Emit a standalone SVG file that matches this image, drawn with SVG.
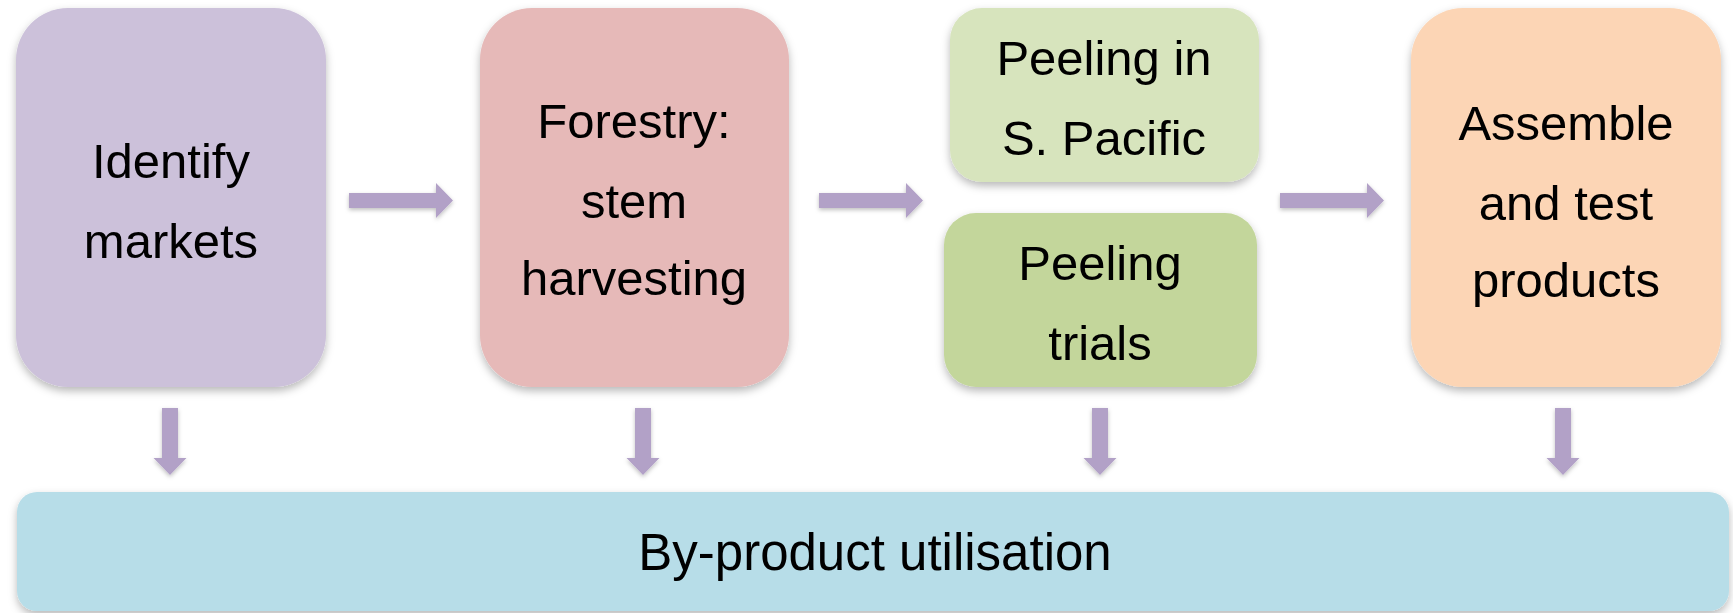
<svg xmlns="http://www.w3.org/2000/svg" width="1733" height="613" viewBox="0 0 1733 613">
<defs>
<filter id="sh" x="-10%" y="-10%" width="120%" height="130%">
<feDropShadow dx="0" dy="4" stdDeviation="4" flood-color="#000" flood-opacity="0.28"/>
</filter>
<filter id="ash" x="-20%" y="-20%" width="140%" height="160%">
<feDropShadow dx="0" dy="2" stdDeviation="2" flood-color="#000" flood-opacity="0.25"/>
</filter>
<style>
text{font-family:"Liberation Sans",Arial,sans-serif;font-size:49px;fill:#000;text-anchor:middle}
.big{font-size:51px}
.arr{fill:#B2A1C7;filter:url(#ash)}
.box{filter:url(#sh)}
</style>
</defs>
<rect width="1733" height="613" fill="#fff"/>
<g id="identify">
<rect class="box" x="16" y="8" width="310" height="379" rx="52" fill="#CCC1DA"/>
<text x="171" y="178">Identify</text>
<text x="171" y="258">markets</text>
</g>
<g id="forestry">
<rect class="box" x="480" y="8" width="309" height="379" rx="52" fill="#E6B9B8"/>
<text x="634" y="138">Forestry:</text>
<text x="634" y="218">stem</text>
<text x="634" y="295">harvesting</text>
</g>
<g id="peeling-sp">
<rect class="box" x="950" y="8" width="309" height="174" rx="32" fill="#D7E4BD"/>
<text x="1104" y="75">Peeling in</text>
<text x="1104" y="155">S. Pacific</text>
</g>
<g id="peeling-trials">
<rect class="box" x="944" y="213" width="313" height="174" rx="32" fill="#C3D69B"/>
<text x="1100" y="280">Peeling</text>
<text x="1100" y="360">trials</text>
</g>
<g id="assemble">
<rect class="box" x="1411" y="8" width="310" height="379" rx="52" fill="#FCD5B5"/>
<text x="1566" y="140">Assemble</text>
<text x="1566" y="220">and test</text>
<text x="1566" y="297">products</text>
</g>
<g id="byproduct">
<rect class="box" x="17" y="492" width="1712" height="119" rx="20" fill="#B7DDE8"/>
<text class="big" x="875" y="570">By-product utilisation</text>
</g>
<g id="connectors">
<path class="arr" d="M349 193H436V183L453 200.5L436 218V208H349Z"/>
<path class="arr" d="M819 193H906V183L923 200.5L906 218V208H819Z"/>
<path class="arr" d="M1280 193H1367V183L1384 200.5L1367 218V208H1280Z"/>
<path class="arr" d="M162 408H178V458H186.5L170 475L153.5 458H162Z"/>
<path class="arr" d="M635 408H651V458H659.5L643 475L626.5 458H635Z"/>
<path class="arr" d="M1092 408H1108V458H1116.5L1100 475L1083.5 458H1092Z"/>
<path class="arr" d="M1555 408H1571V458H1579.5L1563 475L1546.5 458H1555Z"/>
</g>
</svg>
